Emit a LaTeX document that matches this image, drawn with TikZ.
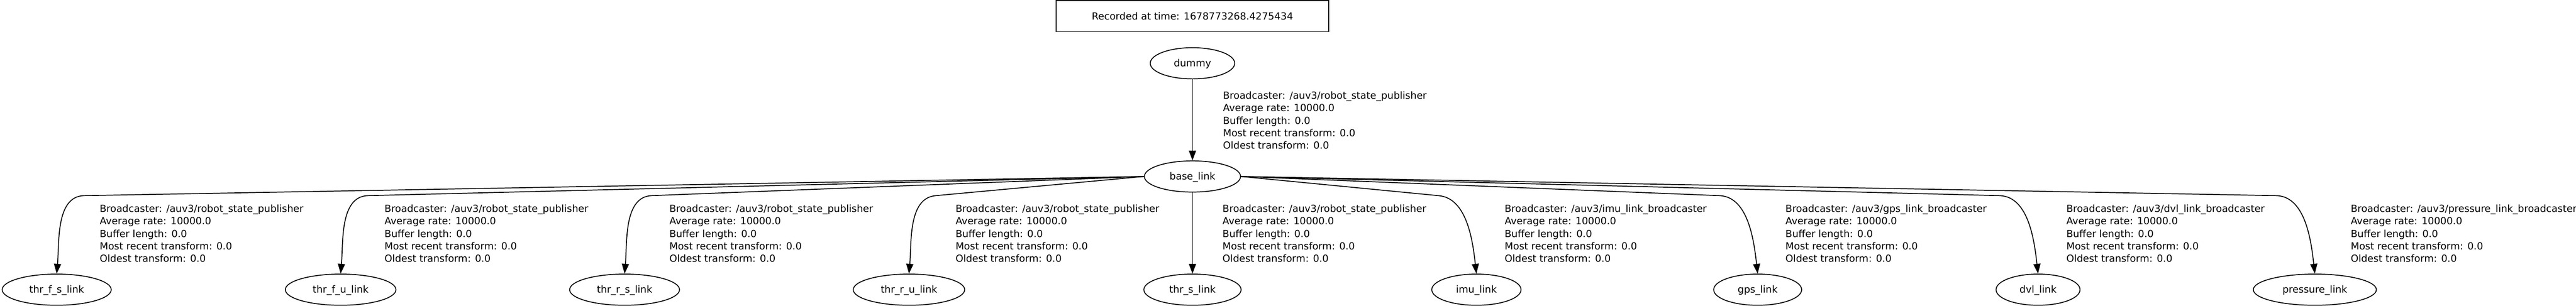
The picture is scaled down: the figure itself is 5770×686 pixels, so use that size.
\documentclass[tikz,border=0pt]{standalone}
\usepackage{fontspec}
\setmainfont{DejaVu Sans}
\usetikzlibrary{arrows.meta,shapes.geometric}

\tikzset{
  stampbox/.style={draw, rectangle, line width=1pt, minimum width=305pt, minimum height=35pt, inner sep=0pt},
  link/.style={draw, ellipse, line width=1pt, minimum height=35pt, inner xsep=12.5pt, inner ysep=0pt, text height=.76em, text depth=0pt},
  tfedge/.style={line width=1pt, -{Triangle[length=11pt,width=8pt]}},
  tfinfo/.style={anchor=north west, inner sep=0pt, align=left}
}
\newcommand{\tfstats}[1]{Broadcaster: /auv3/#1\\Average rate: 10000.0\\Buffer length: 0.0\\Most recent transform: 0.0\\Oldest transform: 0.0}

\begin{document}
\begin{tikzpicture}[x=0.5pt,y=0.5pt,yscale=-1,xscale=1,font=\fontsize{11pt}{14pt}\selectfont]
\useasboundingbox (0,0) rectangle (5770,686); %set diagram width 5770, height 686

%Shape: Rectangle
\draw (2671,36) node [stampbox] (stamp) {Recorded at time: 1678773268.4275434};

%Shape: Ellipse
\draw (2671,142) node [link] (dummy) {dummy};
%Shape: Ellipse
\draw (2671,396) node [link] (base) {base\_link};
%Shape: Ellipse
\draw (127,650) node [link] (thrfs) {thr\_f\_s\_link};
%Shape: Ellipse
\draw (763,650) node [link] (thrfu) {thr\_f\_u\_link};
%Shape: Ellipse
\draw (1399,650) node [link] (thrrs) {thr\_r\_s\_link};
%Shape: Ellipse
\draw (2036,650) node [link] (thrru) {thr\_r\_u\_link};
%Shape: Ellipse
\draw (2671,650) node [link] (thrs) {thr\_s\_link};
%Shape: Ellipse
\draw (3307,650) node [link] (imu) {imu\_link};
%Shape: Ellipse
\draw (3937,650) node [link] (gps) {gps\_link};
%Shape: Ellipse
\draw (4565,650) node [link] (dvl) {dvl\_link};
%Shape: Ellipse
\draw (5185,650) node [link] (pressure) {pressure\_link};

%Straight Lines
\draw [tfedge] (dummy) -- (base);
%Straight Lines
\draw [tfedge] (base) -- (thrs);
%Curve Lines
\draw [tfedge] (base.west) -- ([shift={(60,-175)}]thrfs.north) .. controls +(-62,3) and +(6,-70) .. (thrfs.north);
%Curve Lines
\draw [tfedge] (base.west) -- ([shift={(60,-175)}]thrfu.north) .. controls +(-62,3) and +(6,-70) .. (thrfu.north);
%Curve Lines
\draw [tfedge] (base.west) -- ([shift={(60,-175)}]thrrs.north) .. controls +(-62,3) and +(6,-70) .. (thrrs.north);
%Curve Lines
\draw [tfedge] (base.west) -- ([shift={(60,-175)}]thrru.north) .. controls +(-62,5) and +(6,-70) .. (thrru.north);
%Curve Lines
\draw [tfedge] (base.east) -- ([shift={(-85,-175)}]imu.north) .. controls +(65,5) and +(-8,-70) .. (imu.north);
%Curve Lines
\draw [tfedge] (base.east) -- ([shift={(-85,-175)}]gps.north) .. controls +(65,3) and +(-8,-70) .. (gps.north);
%Curve Lines
\draw [tfedge] (base.east) -- ([shift={(-85,-175)}]dvl.north) .. controls +(65,3) and +(-8,-70) .. (dvl.north);
%Curve Lines
\draw [tfedge] (base.east) -- ([shift={(-85,-175)}]pressure.north) .. controls +(65,3) and +(-8,-70) .. (pressure.north);

% Text Node
\draw (2739,205) node [tfinfo] (infobase) {\tfstats{robot\_state\_publisher}};
% Text Node
\draw (223,459) node [tfinfo] (infofs) {\tfstats{robot\_state\_publisher}};
% Text Node
\draw (861,459) node [tfinfo] (infofu) {\tfstats{robot\_state\_publisher}};
% Text Node
\draw (1499,459) node [tfinfo] (infors) {\tfstats{robot\_state\_publisher}};
% Text Node
\draw (2140,459) node [tfinfo] (inforu) {\tfstats{robot\_state\_publisher}};
% Text Node
\draw (2738,459) node [tfinfo] (infos) {\tfstats{robot\_state\_publisher}};
% Text Node
\draw (3370,459) node [tfinfo] (infoimu) {\tfstats{imu\_link\_broadcaster}};
% Text Node
\draw (3999,459) node [tfinfo] (infogps) {\tfstats{gps\_link\_broadcaster}};
% Text Node
\draw (4628,459) node [tfinfo] (infodvl) {\tfstats{dvl\_link\_broadcaster}};
% Text Node
\draw (5265,459) node [tfinfo] (infopressure) {\tfstats{pressure\_link\_broadcaster}};

\end{tikzpicture}
\end{document}
